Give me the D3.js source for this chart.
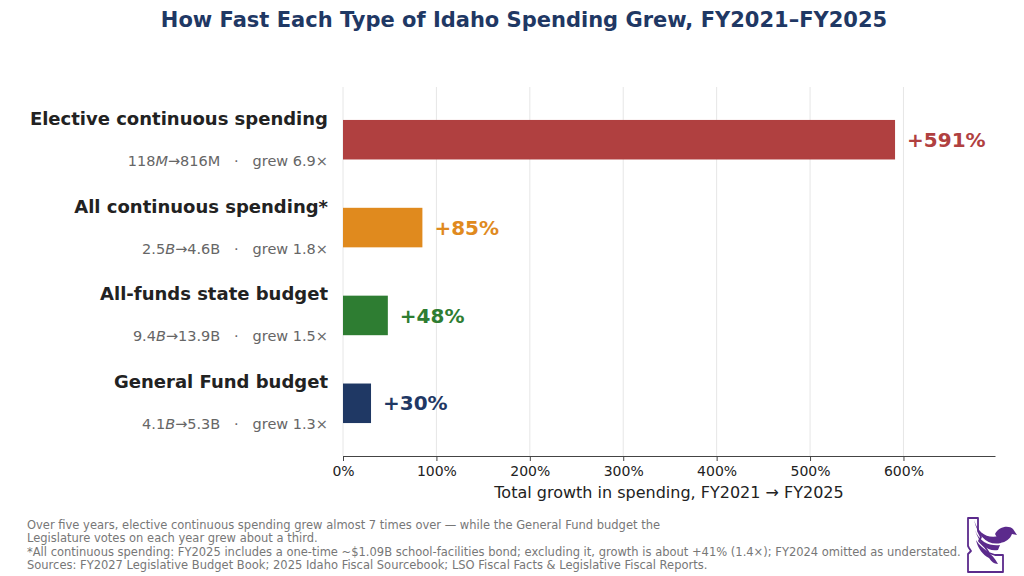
<!DOCTYPE html>
<html lang="en">
  <head>
    <meta charset="UTF-8" />
    <title>Idaho Spending Growth FY2021-FY2025</title>
    <script src="https://d3js.org/d3.v7.min.js"></script>
    <style>
      body { margin: 0; background: #fff; }
      svg text { font-family: "DejaVu Sans", sans-serif; white-space: pre; }
    </style>
  </head>
  <body>
    <svg id="chart" width="1024" height="576"></svg>

    <script>
      // chart data
      const categories = [
        "Elective continuous spending",
        "All continuous spending*",
        "All-funds state budget",
        "General Fund budget",
      ];
      const growthPct = [591, 85, 48, 30];
      const startNums = ["118", "2.5", "9.4", "4.1"];
      const startUnits = ["M", "B", "B", "B"];
      const endLabels = ["816M", "4.6B", "13.9B", "5.3B"];
      const multiples = ["6.9", "1.8", "1.5", "1.3"];
      const barColors = ["#b04040", "#e08a1e", "#2e7d32", "#1f3864"];
      const tickValues = [0, 100, 200, 300, 400, 500, 600];
      const footerLines = [
        "Over five years, elective continuous spending grew almost 7 times over \u2014 while the General Fund budget the",
        "Legislature votes on each year grew about a third.",
        "*All continuous spending: FY2025 includes a one-time ~$1.09B school-facilities bond; excluding it, growth is about +41% (1.4\u00d7); FY2024 omitted as understated.",
        "Sources: FY2027 Legislative Budget Book; 2025 Idaho Fiscal Sourcebook; LSO Fiscal Facts & Legislative Fiscal Reports.",
      ];

      const svg = d3.select("#chart");
      const plotLeft = 343, plotRight = 995, plotTop = 87, plotBottom = 456;

      const x = d3.scaleLinear().domain([0, 698]).range([plotLeft, plotRight]);
      // index scale like matplotlib ylim (-0.6, 3.6)
      const y = d3.scaleLinear().domain([-0.6, 3.6]).range([plotTop, plotBottom]);
      const barH = y(0.45) - y(0);

      // title
      svg.append("text")
        .attr("x", 524).attr("y", 27)
        .attr("text-anchor", "middle")
        .attr("font-size", 21).attr("font-weight", "bold")
        .attr("fill", "#1f3864")
        .text("How Fast Each Type of Idaho Spending Grew, FY2021\u2013FY2025");

      // grid lines
      svg.append("g")
        .selectAll("line")
        .data(tickValues)
        .join("line")
        .attr("x1", (d) => x(d)).attr("x2", (d) => x(d))
        .attr("y1", plotTop).attr("y2", plotBottom)
        .attr("stroke", "#e6e6e6").attr("stroke-width", 1);

      // bars
      svg.append("g")
        .selectAll("rect")
        .data(growthPct)
        .join("rect")
        .attr("x", x(0))
        .attr("y", (d, i) => y(i) - barH / 2)
        .attr("width", (d) => x(d) - x(0))
        .attr("height", barH)
        .attr("fill", (d, i) => barColors[i]);

      // value labels
      svg.append("g")
        .selectAll("text")
        .data(growthPct)
        .join("text")
        .attr("x", (d) => x(d) + 12)
        .attr("y", (d, i) => y(i))
        .attr("dy", "0.36em")
        .attr("font-size", 20).attr("font-weight", "bold")
        .attr("fill", (d, i) => barColors[i])
        .text((d) => "+" + d + "%");

      // category labels
      svg.append("g")
        .selectAll("text")
        .data(categories)
        .join("text")
        .attr("x", 328)
        .attr("y", (d, i) => y(i) - 15)
        .attr("text-anchor", "end")
        .attr("font-size", 18).attr("font-weight", "bold")
        .attr("fill", "#222")
        .text((d) => d);

      // sub labels: start -> end · grew N×
      const sub = svg.append("g")
        .selectAll("text")
        .data(categories)
        .join("text")
        .attr("x", 328)
        .attr("y", (d, i) => y(i) + 26)
        .attr("text-anchor", "end")
        .attr("font-size", 14.5)
        .attr("fill", "#666");
      sub.append("tspan").text((d, i) => startNums[i]);
      sub.append("tspan").attr("font-style", "italic").text((d, i) => startUnits[i]);
      sub.append("tspan").text((d, i) => "\u2192" + endLabels[i] + "   \u00b7   grew " + multiples[i] + "\u00d7");

      // x axis
      const axis = svg.append("g")
        .attr("transform", `translate(0,${plotBottom})`)
        .call(d3.axisBottom(x).tickValues(tickValues).tickFormat((d) => d + "%").tickSize(5).tickSizeOuter(0));
      axis.select(".domain").attr("stroke", "#444").attr("stroke-width", 1.2);
      axis.selectAll(".tick line").attr("stroke", "#444");
      axis.selectAll(".tick text")
        .attr("font-family", "DejaVu Sans").attr("font-size", 14)
        .attr("fill", "#222").attr("dy", "0.85em");

      svg.append("text")
        .attr("x", (plotLeft + plotRight) / 2).attr("y", 498)
        .attr("text-anchor", "middle")
        .attr("font-size", 16).attr("fill", "#222")
        .text("Total growth in spending, FY2021 \u2192 FY2025");

      // footer notes
      svg.append("g")
        .selectAll("text")
        .data(footerLines)
        .join("text")
        .attr("x", 27)
        .attr("y", (d, i) => 529 + i * 13.3)
        .attr("font-size", 11.5).attr("fill", "#777")
        .text((d) => d);

      // logo: Idaho outline with a bird
      const purple = "#5b2a8c";
      const logo = svg.append("g").attr("transform", "translate(967,517)");
      logo.append("path")
        .attr("d", "M1,1 L11,1 L11,14 L14,20 L12,24 L18,30 L22,36 L28,38 L36,38 L36,55 L1,55 L1,37 L4,34 L2,31 L1,29 Z")
        .attr("fill", "#fff").attr("stroke", purple).attr("stroke-width", 1.8).attr("stroke-linejoin", "round");
      // head
      logo.append("path")
        .attr("d", "M28,17 C32,9 42,8 46,12 L50,18 L45,17 C43,22 39,25 33,26 Z")
        .attr("fill", purple);
      // wings
      logo.append("path")
        .attr("d", "M7,3 C11,16 20,22 32,19 L34,26 C21,29 11,20 7,3 Z")
        .attr("fill", purple);
      logo.append("path")
        .attr("d", "M8,13 C13,26 23,29 33,28 L31,33 C21,35 13,28 8,13 Z")
        .attr("fill", purple);
      logo.append("path")
        .attr("d", "M9,23 C15,33 25,35 31,47 C27,47 24,44 22,41 C16,38 11,32 9,23 Z")
        .attr("fill", purple);
    </script>
  </body>
</html>
